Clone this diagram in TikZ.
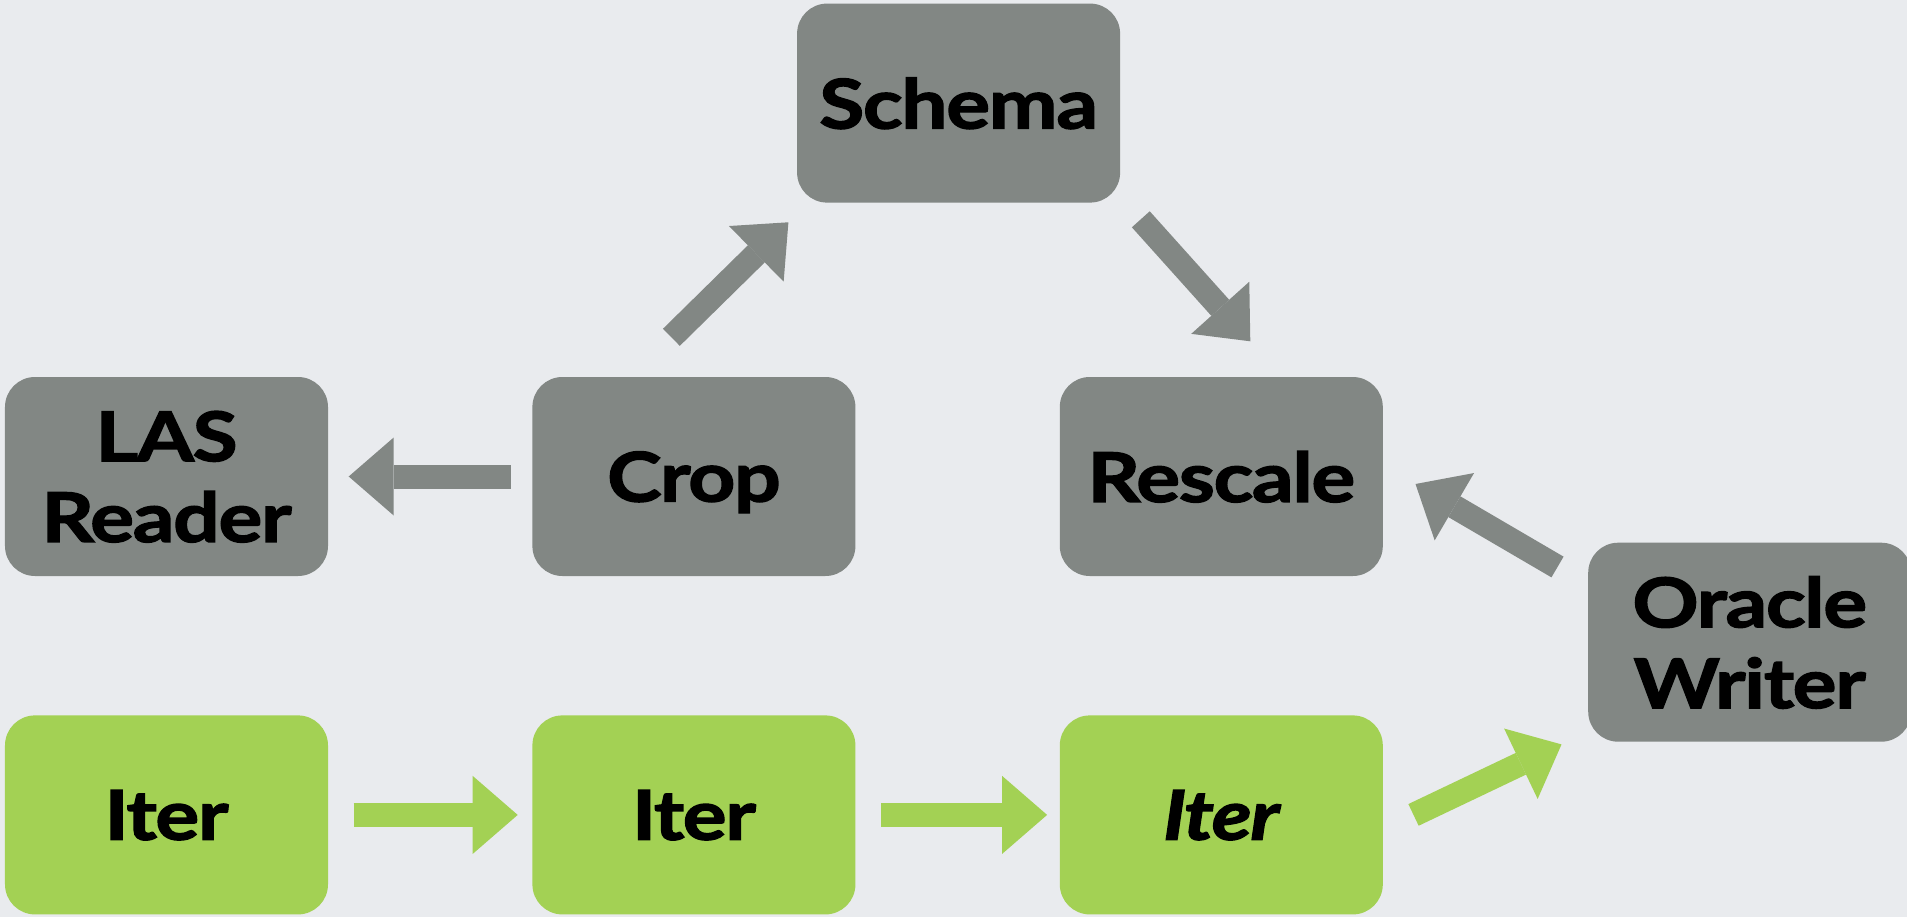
\documentclass[tikz,border=0pt]{standalone}
\usepackage{fontspec}
\setmainfont{Lato}[FakeStretch=1.2, LetterSpace=-2,
  BoldFeatures={FakeBold=2}, BoldItalicFeatures={FakeBold=2}]
\usetikzlibrary{
  arrows.meta,
  positioning,
}
\definecolor{boxgray}{RGB}{130,135,132}
\definecolor{boxgreen}{RGB}{163,209,84}
\definecolor{backdrop}{RGB}{233,235,238}

\begin{document}
\begin{tikzpicture}[
    stage/.style={rectangle, rounded corners=0.3cm, minimum width=3.23cm,
      minimum height=1.99cm, inner sep=0pt, align=center, text depth=0pt,
      font=\fontsize{19.5}{23}\selectfont\bfseries},
    gray stage/.style={stage, fill=boxgray},
    green stage/.style={stage, fill=boxgreen},
    flow/.style={line width=0.24cm,
      -{Triangle[length=0.45cm, width=0.78cm, line width=0pt]}},
  ]
    \fill [backdrop] (0,0) rectangle (19.07,9.17);
    \useasboundingbox (0,0) rectangle (19.07,9.17);
    % pipeline stages
    \node [gray stage] (L) at (1.665,4.405) {LAS\\Reader};
    \node [gray stage, right=2.03cm of L] (C) {Crop};
    \node [gray stage, right=2.03cm of C] (R) {Rescale};
    \node [gray stage, above right=1.73cm and 1.025cm of C.north] (S) {Schema};
    \node [gray stage, below right=0.655cm and 2.04cm of R.east] (O) {Oracle\\Writer};
    % iterators
    \node [green stage, below=1.38cm of L] (I1) {Iter};
    \node [green stage, right=2.03cm of I1] (I2) {Iter};
    \node [green stage, right=2.03cm of I2] (I3) {\textit{Iter}};
    \draw [flow, boxgray, shorten <=0.21cm, shorten >=0.20cm] (C) -- (L);
    \draw [flow, boxgray] ([shift={(-0.225,0.39)}]C.north) -- ([shift={(-0.08,-0.19)}]S.south west);
    \draw [flow, boxgray] ([shift={(0.20,-0.16)}]S.south east) -- ([shift={(0.29,0.35)}]R.north);
    \draw [flow, boxgray] ([shift={(-0.30,-0.25)}]O.north west) -- ([shift={(0.32,-0.075)}]R.east);
    \draw [flow, boxgreen, shorten <=0.25cm, shorten >=0.14cm] (I1) -- (I2);
    \draw [flow, boxgreen, shorten <=0.25cm, shorten >=0.12cm] (I2) -- (I3);
    \draw [flow, boxgreen] ([shift={(0.30,0)}]I3.east) -- ([shift={(-0.26,-0.02)}]O.south west);
  \end{tikzpicture}
\end{document}
